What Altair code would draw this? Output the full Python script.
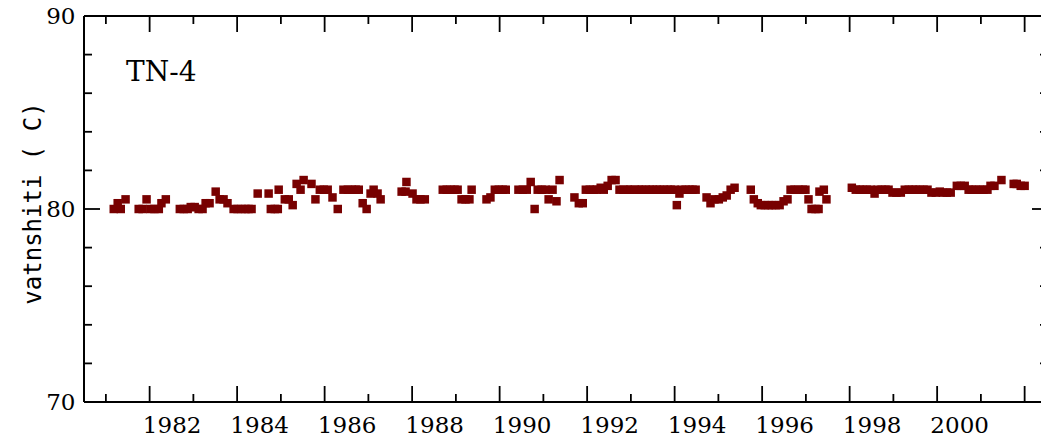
import altair as alt
import pandas as pd

# ---- data ----
years = [
    1981.18, 1981.27, 1981.34, 1981.45,
    1981.75, 1981.84, 1981.93, 1982.02, 1982.11, 1982.21, 1982.27, 1982.37,
    1982.69, 1982.78, 1982.87, 1982.94, 1983.03, 1983.12, 1983.21, 1983.28, 1983.37,
    1983.51, 1983.60, 1983.69, 1983.78, 1983.92, 1984.01, 1984.10, 1984.19, 1984.26, 1984.33,
    1984.47, 1984.72, 1984.77, 1984.86, 1984.93, 1984.95,
    1985.09, 1985.18, 1985.27, 1985.36, 1985.45, 1985.52, 1985.70, 1985.79, 1985.89, 1985.98,
    1986.07, 1986.18, 1986.30, 1986.43, 1986.53, 1986.62, 1986.71, 1986.78, 1986.87, 1986.96,
    1987.05, 1987.12, 1987.21, 1987.28,
    1987.76, 1987.85, 1987.87, 1988.01, 1988.10, 1988.19, 1988.29,
    1988.70, 1988.79, 1988.88, 1988.97, 1989.04, 1989.13, 1989.22, 1989.31, 1989.36,
    1989.70, 1989.79, 1989.89, 1989.98, 1990.07, 1990.14,
    1990.43, 1990.53, 1990.62, 1990.71, 1990.80, 1990.87, 1990.96, 1991.05, 1991.12, 1991.21,
    1991.30, 1991.37,
    1991.71, 1991.81, 1991.90, 1991.97, 1992.06, 1992.15, 1992.22, 1992.31, 1992.38, 1992.47,
    1992.56, 1992.65, 1992.74, 1992.83, 1992.93, 1992.99, 1993.09, 1993.18, 1993.25, 1993.34,
    1993.43, 1993.50, 1993.59, 1993.66, 1993.75, 1993.84, 1993.91, 1994.00, 1994.05, 1994.11,
    1994.16, 1994.25, 1994.34, 1994.41, 1994.48,
    1994.73, 1994.82, 1994.91, 1995.01, 1995.10, 1995.19, 1995.28, 1995.37,
    1995.74, 1995.81, 1995.90, 1995.97, 1996.06, 1996.15, 1996.22, 1996.31, 1996.40, 1996.49,
    1996.58, 1996.65, 1996.74, 1996.83, 1996.93, 1996.99, 1997.06, 1997.13, 1997.22, 1997.29,
    1997.31, 1997.41, 1997.47,
    1998.05, 1998.14, 1998.23, 1998.30, 1998.39, 1998.48, 1998.57, 1998.64, 1998.73, 1998.82,
    1998.89, 1998.98, 1999.07, 1999.17, 1999.26, 1999.35, 1999.44, 1999.51, 1999.60, 1999.69,
    1999.78, 1999.87, 1999.97, 2000.06, 2000.13, 2000.22, 2000.31, 2000.45, 2000.54, 2000.63,
    2000.72, 2000.79, 2000.88, 2000.97, 2001.06, 2001.15, 2001.22, 2001.31, 2001.47, 2001.75,
    2001.82, 2001.91, 2002.00,
]
temps = [
    80.0, 80.3, 80.0, 80.5,
    80.0, 80.0, 80.5, 80.0, 80.0, 80.0, 80.3, 80.5,
    80.0, 80.0, 80.0, 80.1, 80.1, 80.0, 80.0, 80.3, 80.3,
    80.9, 80.5, 80.5, 80.3, 80.0, 80.0, 80.0, 80.0, 80.0, 80.0,
    80.8, 80.8, 80.0, 80.0, 80.0, 81.0,
    80.5, 80.5, 80.2, 81.3, 81.0, 81.5, 81.3, 80.5, 81.0, 81.0,
    81.0, 80.6, 80.0, 81.0, 81.0, 81.0, 81.0, 81.0, 80.3, 80.0,
    80.8, 81.0, 80.8, 80.5,
    80.9, 80.9, 81.4, 80.8, 80.5, 80.5, 80.5,
    81.0, 81.0, 81.0, 81.0, 81.0, 80.5, 80.5, 80.5, 81.0,
    80.5, 80.6, 81.0, 81.0, 81.0, 81.0,
    81.0, 81.0, 81.0, 81.4, 80.0, 81.0, 81.0, 81.0, 80.5, 81.0,
    80.4, 81.5,
    80.6, 80.3, 80.3, 81.0, 81.0, 81.0, 81.0, 81.1, 81.0, 81.2,
    81.5, 81.5, 81.0, 81.0, 81.0, 81.0, 81.0, 81.0, 81.0, 81.0,
    81.0, 81.0, 81.0, 81.0, 81.0, 81.0, 81.0, 81.0, 80.2, 80.8,
    81.0, 81.0, 81.0, 81.0, 81.0,
    80.6, 80.3, 80.5, 80.5, 80.6, 80.7, 81.0, 81.1,
    81.0, 80.5, 80.3, 80.2, 80.2, 80.2, 80.2, 80.2, 80.2, 80.4,
    80.5, 81.0, 81.0, 81.0, 81.0, 81.0, 80.5, 80.0, 80.0, 80.0,
    80.9, 81.0, 80.5,
    81.1, 81.0, 81.0, 81.0, 81.0, 81.0, 80.8, 81.0, 81.0, 81.0,
    81.0, 80.85, 80.85, 80.85, 81.0, 81.0, 81.0, 81.0, 81.0, 81.0,
    81.0, 80.85, 80.85, 80.9, 80.85, 80.85, 80.85, 81.2, 81.2, 81.2,
    81.0, 81.0, 81.0, 81.0, 81.0, 81.0, 81.2, 81.2, 81.5, 81.3,
    81.3, 81.2, 81.2,
]

x_label_years = [1982, 1984, 1986, 1988, 1990, 1992, 1994, 1996, 1998, 2000]
x_major_ticks = [1982, 1984, 1986, 1988, 1990, 1992, 1994, 1996, 1998, 2000, 2002]
x_minor_ticks = [1981, 1983, 1985, 1987, 1989, 1991, 1993, 1995, 1997, 1999, 2001]
y_label_values = [70, 80, 90]
y_major_ticks = [70, 80, 90]
y_minor_ticks = [72, 74, 76, 78, 82, 84, 86, 88]

panel_label = "TN-4"
y_title = "vatnshiti ( C)"

# ---- layout ----
W, H = 957, 386
RIGHT_FRAME = 964  # frame lies just past the visible edge
x_scale = alt.Scale(domain=[1980.5, 2002.374], nice=False, zero=False)
y_scale = alt.Scale(domain=[70, 90], nice=False, zero=False)
INK = "#000000"
MARK = "#780000"

df = pd.DataFrame({"year": years, "temp": temps})

x_axis = alt.Axis(
    values=x_label_years, format="d", ticks=False, domain=False, grid=False,
    labelOffset=22, labelPadding=12, labelFont="DejaVu Serif", labelFontSize=23,
    labelColor=INK, labelFlush=False, labelOverlap=False, title=None,
)
y_axis = alt.Axis(
    values=y_label_values, format="d", ticks=False, domain=False, grid=False,
    labelPadding=9, labelFont="DejaVu Serif", labelFontSize=23, labelColor=INK,
    labelFlush=False, labelOverlap=False,
    title=y_title, titleFont="DejaVu Sans Mono", titleFontSize=24,
    titleFontWeight="normal", titleColor=INK, titleAngle=270,
    titleX=-51, titleY=187, titleAlign="center", titleBaseline="middle",
)

points = alt.Chart(df).mark_square(size=72, color=MARK, opacity=1).encode(
    x=alt.X("year:Q", scale=x_scale, axis=x_axis),
    y=alt.Y("temp:Q", scale=y_scale, axis=y_axis),
)

xmaj = pd.DataFrame({"year": x_major_ticks})
xmin = pd.DataFrame({"year": x_minor_ticks})
ymaj = pd.DataFrame({"temp": y_major_ticks})
ymin = pd.DataFrame({"temp": y_minor_ticks})
one = pd.DataFrame({"k": [0]})

def xtick(data, y, y2):
    return alt.Chart(data).mark_rule(color=INK, strokeWidth=1.8).encode(
        x=alt.X("year:Q", scale=x_scale, axis=x_axis),
        y=alt.value(y), y2=alt.value(y2),
    )

def ytick(data, x, x2):
    return alt.Chart(data).mark_rule(color=INK, strokeWidth=1.8).encode(
        y=alt.Y("temp:Q", scale=y_scale, axis=y_axis),
        x=alt.value(x), x2=alt.value(x2),
    )

ticks = [
    xtick(xmaj, H, H - 16), xtick(xmin, H, H - 8),
    xtick(xmaj, 0, 16), xtick(xmin, 0, 8),
    ytick(ymaj, 0, 16), ytick(ymin, 0, 8),
    ytick(ymaj, RIGHT_FRAME - 16, RIGHT_FRAME), ytick(ymin, RIGHT_FRAME - 8, RIGHT_FRAME),
]

frame = [
    alt.Chart(one).mark_rule(color=INK, strokeWidth=2).encode(
        x=alt.value(0), y=alt.value(0), y2=alt.value(H)),
    alt.Chart(one).mark_rule(color=INK, strokeWidth=2).encode(
        x=alt.value(0), x2=alt.value(W), y=alt.value(0)),
    alt.Chart(one).mark_rule(color=INK, strokeWidth=2).encode(
        x=alt.value(0), x2=alt.value(W), y=alt.value(H)),
]

label = alt.Chart(one).mark_text(
    font="DejaVu Serif", fontSize=28, color=INK, align="left", baseline="alphabetic"
).encode(x=alt.value(42), y=alt.value(65), text=alt.value(panel_label))

chart = alt.layer(points, *ticks, *frame, label).properties(
    width=W, height=H,
    autosize=alt.AutoSizeParams(type="none"),
    padding={"left": 84, "top": 16, "right": 0, "bottom": 37},
    background="white",
).configure_view(strokeOpacity=0)

chart.save("out.html", embed_options={"renderer": "svg", "actions": False})
